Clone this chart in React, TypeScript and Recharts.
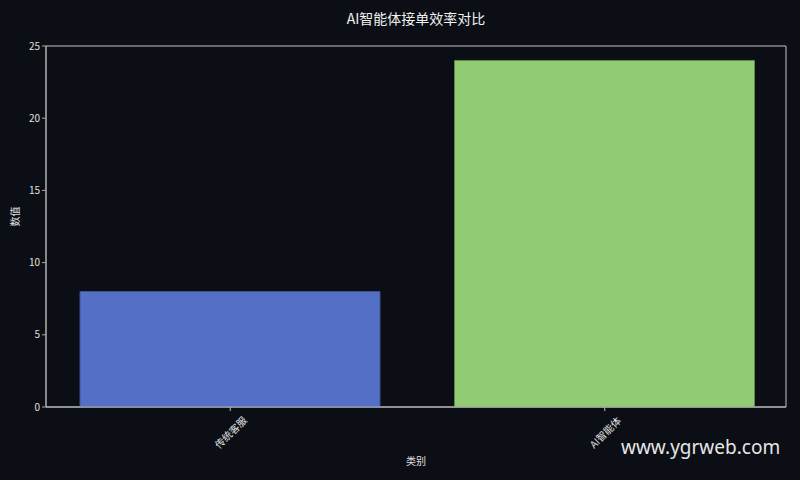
import React from "react";
import { BarChart, Bar, XAxis, YAxis, Cell, Label, CartesianGrid } from "recharts";

const categories = ["传统客服", "AI智能体"];
const values = [8, 24];
const barColors = ["#5470c6", "#91cc75"];
const barEdges = ["#3d5296", "#5f8a4c"];
const yTicks = [0, 5, 10, 15, 20, 25];
const xTicks = [0, 1];

const chartData = categories.map((name, i) => ({ idx: i, name, value: values[i] }));

const BG = "#0b0e14";
const FONT = "'Noto Sans CJK SC', 'DejaVu Sans', sans-serif";

const RotatedTick: React.FC<any> = ({ x, y, payload }) => (
  <g transform={`translate(${x},${y + 19})`}>
    <text
      x={0}
      y={0}
      textAnchor="middle"
      dominantBaseline="central"
      transform="rotate(-45)"
      fill="#e0e0e0"
      fontSize={10}
      fontFamily={FONT}
    >
      {categories[payload.value]}
    </text>
  </g>
);

// frame around the plot area, like a matplotlib spine box
const frameX = ({ offset }: any) => [offset.left, offset.left + offset.width];
const frameY = ({ offset }: any) => [offset.top, offset.top + offset.height];

export default function App() {
  return (
    <div
      style={{
        position: "absolute",
        left: 0,
        top: 0,
        width: 800,
        height: 480,
        background: BG,
        fontFamily: FONT,
      }}
    >
      <div
        style={{
          position: "absolute",
          left: 0,
          top: 8,
          width: 832,
          textAlign: "center",
          color: "#f0f0f0",
          fontSize: 14,
        }}
      >
        AI智能体接单效率对比
      </div>
      <BarChart
        width={800}
        height={480}
        data={chartData}
        margin={{ top: 46, right: 14, bottom: 13, left: 6 }}
      >
        <CartesianGrid
          stroke="#c4c4c4"
          verticalCoordinatesGenerator={frameX}
          horizontalCoordinatesGenerator={frameY}
        />
        <XAxis
          dataKey="idx"
          type="number"
          domain={[-0.492, 1.484]}
          ticks={xTicks}
          height={60}
          stroke="#bdbdbd"
          tickLine={{ stroke: "#bdbdbd" }}
          tickSize={4}
          tick={<RotatedTick />}
          interval={0}
          allowDataOverflow
        >
          <Label
            value="类别"
            position="insideBottom"
            offset={2}
            fill="#e0e0e0"
            fontSize={10}
            fontFamily={FONT}
          />
        </XAxis>
        <YAxis
          width={40}
          domain={[0, 25]}
          ticks={yTicks}
          stroke="#aaaaaa"
          tickSize={4}
          tick={{ fill: "#e0e0e0", fontSize: 10, fontFamily: FONT }}
        >
          <Label
            value="数值"
            angle={-90}
            position="insideLeft"
            offset={9}
            fill="#e0e0e0"
            fontSize={10}
            fontFamily={FONT}
          />
        </YAxis>
        <Bar dataKey="value" barSize={300} isAnimationActive={false}>
          {chartData.map((d, i) => (
            <Cell key={d.name} fill={barColors[i]} stroke={barEdges[i]} strokeWidth={1} />
          ))}
        </Bar>
      </BarChart>
      <div
        style={{
          position: "absolute",
          left: 621,
          top: 434,
          color: "#e6e6e6",
          fontSize: 19,
          fontFamily: "'Noto Sans', sans-serif",
        }}
      >
        www.ygrweb.com
      </div>
    </div>
  );
}
